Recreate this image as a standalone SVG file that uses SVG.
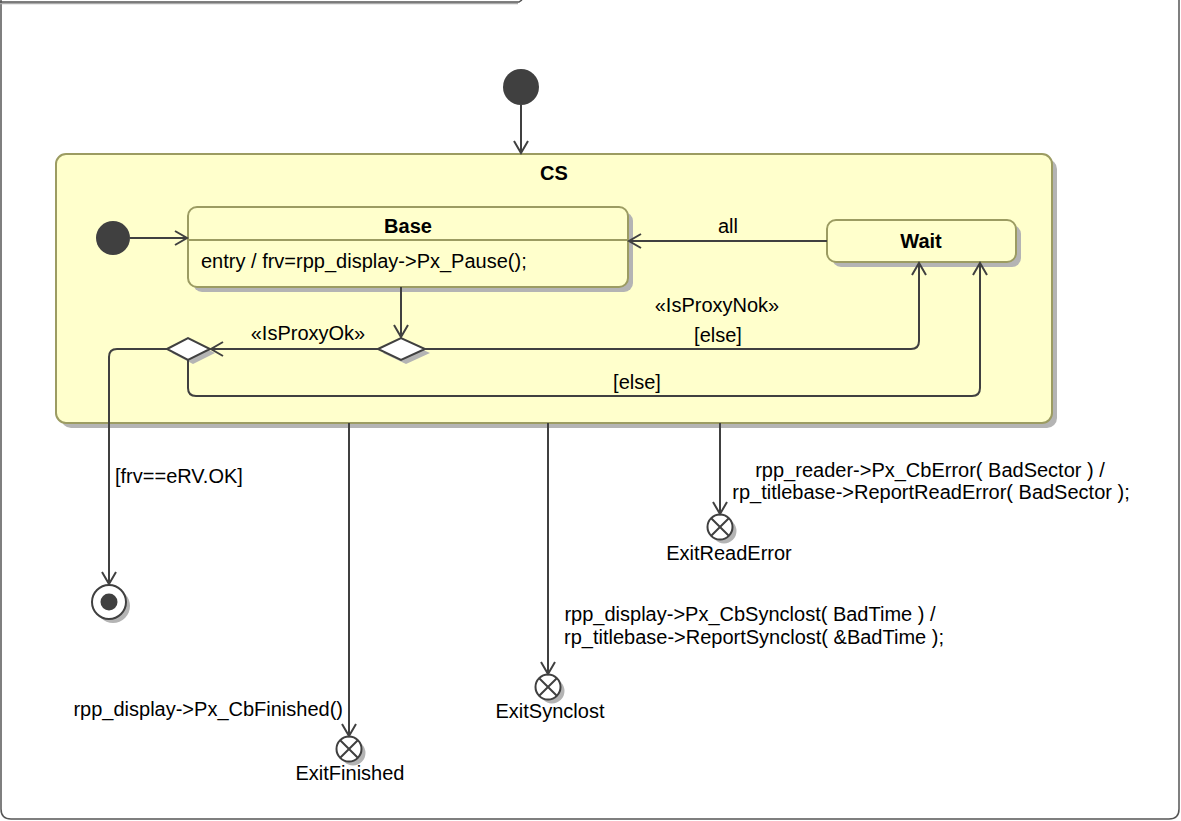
<svg xmlns="http://www.w3.org/2000/svg" width="1181" height="821" viewBox="0 0 1181 821">
<style>
text{font-family:"Liberation Sans",Arial,sans-serif;font-size:20px;fill:#000}
.b{font-weight:bold}
.m{text-anchor:middle}
.e{text-anchor:end}
.st{fill:#FFFFCC;stroke:#9C9C62;stroke-width:2}
.sh{fill:#B4B4B4;stroke:none}
.ln{fill:none;stroke:#404040;stroke-width:2}
.ar{fill:none;stroke:#404040;stroke-width:2;marker-end:url(#a)}
.ini{fill:#404040;stroke:none}
.ex{fill:#fff;stroke:#404040;stroke-width:2}
</style>
<defs>
<marker id="a" markerUnits="userSpaceOnUse" markerWidth="16" markerHeight="16" viewBox="0 0 16 16" refX="14" refY="8" orient="auto">
<path d="M2,1 L14,8 L2,15" fill="none" stroke="#404040" stroke-width="2"/>
</marker>
</defs>
<rect width="1181" height="821" fill="#fff"/>
<g id="frame">
<path d="M1,0 L1,809 Q1,819 11,819 L1169,819 Q1179,819 1179,809 L1179,0" fill="none" stroke="#555" stroke-width="1.5"/>
<path d="M0,3.5 L518,3.5" fill="none" stroke="#aaa" stroke-width="1.5"/>
<path d="M0,2 L519,2 L522,0" fill="none" stroke="#555" stroke-width="1.5"/>
</g>
<g id="CS">
<rect class="sh" x="61" y="159" width="996" height="269" rx="10"/>
<rect class="st" x="56" y="154" width="996" height="269" rx="10"/>
<text class="b m" x="554" y="180">CS</text>
</g>
<g id="init-top"><circle class="ini" cx="521" cy="87" r="18"/></g>
<g id="init-inner"><circle class="ini" cx="113" cy="238" r="17"/></g>
<g id="Base">
<rect class="sh" x="193" y="212" width="440" height="80" rx="9"/>
<rect class="st" x="188" y="207" width="440" height="80" rx="9"/>
<line x1="188" y1="240" x2="628" y2="240" stroke="#9C9C62" stroke-width="2"/>
<text class="b m" x="408" y="233">Base</text>
<text x="201" y="268">entry / frv=rpp_display-&gt;Px_Pause();</text>
</g>
<g id="Wait">
<rect class="sh" x="832" y="225" width="189" height="42" rx="9"/>
<rect class="st" x="827" y="220" width="189" height="42" rx="9"/>
<text class="b m" x="921" y="248">Wait</text>
</g>
<g id="D1">
<path class="sh" d="M383,353 L406,342 L430,353 L406,364 Z"/>
<path d="M378,349 L401,338 L425,349 L401,360 Z" fill="#fff" stroke="#404040" stroke-width="2"/>
</g>
<g id="D2">
<path class="sh" d="M172,353 L193,342 L215,353 L193,364 Z"/>
<path d="M167,349 L188,338 L210,349 L188,360 Z" fill="#fff" stroke="#404040" stroke-width="2"/>
</g>
<g id="final">
<circle class="sh" cx="113" cy="606" r="17"/>
<circle cx="109" cy="602" r="17" fill="#fff" stroke="#404040" stroke-width="2"/>
<circle cx="109" cy="602" r="8.5" fill="#404040"/>
</g>
<g id="ExitReadError">
<circle class="sh" cx="724" cy="531" r="12.5"/>
<circle class="ex" cx="720" cy="527" r="12.5"/>
<path d="M711.2,518.2 L728.8,535.8 M728.8,518.2 L711.2,535.8" stroke="#404040" stroke-width="2"/>
<text class="m" x="729" y="560">ExitReadError</text>
</g>
<g id="ExitSynclost">
<circle class="sh" cx="552" cy="691" r="12.5"/>
<circle class="ex" cx="548" cy="687" r="12.5"/>
<path d="M539.2,678.2 L556.8,695.8 M556.8,678.2 L539.2,695.8" stroke="#404040" stroke-width="2"/>
<text class="m" x="550" y="718">ExitSynclost</text>
</g>
<g id="ExitFinished">
<circle class="sh" cx="353" cy="753" r="12.5"/>
<circle class="ex" cx="349" cy="749" r="12.5"/>
<path d="M340.2,740.2 L357.8,757.8 M357.8,740.2 L340.2,757.8" stroke="#404040" stroke-width="2"/>
<text class="m" x="350" y="780">ExitFinished</text>
</g>
<g id="connectors">
<path class="ar" d="M521,105 L521,153"/>
<path class="ar" d="M130,238 L187,238"/>
<path class="ar" d="M827,241 L629,241"/>
<path class="ar" d="M401,287 L401,337"/>
<path class="ar" d="M378,349 L211,349"/>
<path class="ar" d="M425,349 L911,349 Q919,349 919,341 L919,263"/>
<path class="ar" d="M188,360 L188,388 Q188,396 196,396 L972,396 Q980,396 980,388 L980,263"/>
<path class="ar" d="M167,349 L117,349 Q109,349 109,357 L109,584"/>
<path class="ar" d="M349,423 L349,736"/>
<path class="ar" d="M548,423 L548,674"/>
<path class="ar" d="M720,423 L720,514"/>
<text class="m" x="728" y="233">all</text>
<text class="m" x="308" y="340">«IsProxyOk»</text>
<text class="m" x="717" y="312">«IsProxyNok»</text>
<text class="m" x="718" y="342">[else]</text>
<text class="m" x="637" y="389">[else]</text>
<text x="115" y="483">[frv==eRV.OK]</text>
<text class="m" x="930" y="477">rpp_reader-&gt;Px_CbError( BadSector ) /</text>
<text class="m" x="931" y="499">rp_titlebase-&gt;ReportReadError( BadSector );</text>
<text class="m" x="750" y="621">rpp_display-&gt;Px_CbSynclost( BadTime ) /</text>
<text class="m" x="754" y="644">rp_titlebase-&gt;ReportSynclost( &amp;BadTime );</text>
<text class="e" x="343" y="716">rpp_display-&gt;Px_CbFinished()</text>
</g>
</svg>
